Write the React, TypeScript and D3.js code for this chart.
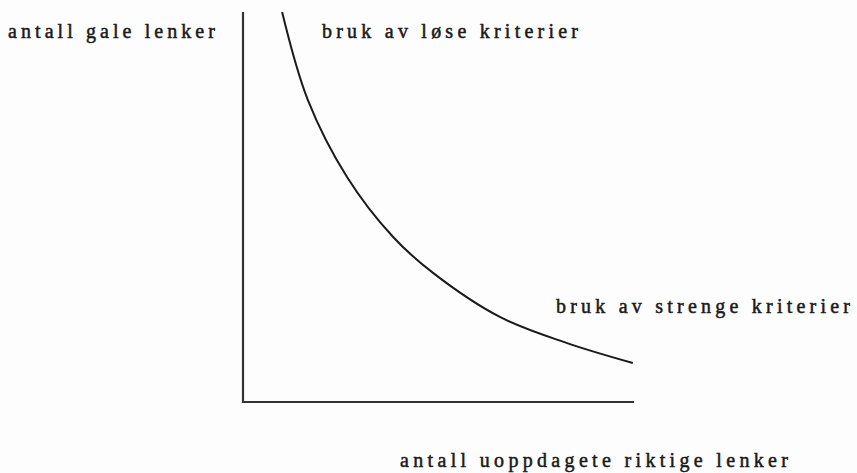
import React, { useEffect, useRef } from 'react';
import * as d3 from 'd3';

// curve (x = undetected correct links, y = wrong links), 0..100
const curveX = [10, 16.6, 26.6, 38.4, 48.6, 65.7, 82.9, 99.7];
const curveY = [100, 77.4, 57.7, 42.3, 33.1, 21.8, 15.1, 10];

const yTitle = 'antall gale lenker';
const xTitle = 'antall uoppdagete riktige lenker';
const looseLabel = 'bruk av løse kriterier';
const strictLabel = 'bruk av strenge kriterier';

const App = () => {
  const svgRef = useRef<SVGSVGElement>(null);

  useEffect(() => {
    const svg = d3.select(svgRef.current);
    svg.selectAll('*').remove();

    const width = 857;
    const height = 473;
    const margin = { top: 12, right: 223, bottom: 71, left: 243 };

    const x = d3.scaleLinear().domain([0, 100]).range([margin.left, width - margin.right]);
    const y = d3.scaleLinear().domain([0, 100]).range([height - margin.bottom, margin.top]);

    svg.append('rect').attr('width', width).attr('height', height).attr('fill', '#fdfdfd');

    // axes, no ticks
    const axis = d3.line<[number, number]>().x(d => x(d[0])).y(d => y(d[1]));
    svg
      .append('path')
      .attr('d', axis([[0, 100], [0, 0], [100, 0]]))
      .attr('fill', 'none')
      .attr('stroke', '#333')
      .attr('stroke-width', 2.2);

    // the curve
    const pts = curveX.map((v, i) => [v, curveY[i]] as [number, number]);
    const line = d3
      .line<[number, number]>()
      .x(d => x(d[0]))
      .y(d => y(d[1]))
      .curve(d3.curveCatmullRom.alpha(0.5));
    svg
      .append('path')
      .attr('d', line(pts))
      .attr('fill', 'none')
      .attr('stroke', '#1a1a1a')
      .attr('stroke-width', 2);

    const label = (txt: string, lx: number, ly: number, len: number) =>
      svg
        .append('text')
        .attr('x', lx)
        .attr('y', ly)
        .attr('textLength', len)
        .attr('lengthAdjust', 'spacing')
        .attr('font-family', '"Liberation Serif", serif')
        .attr('font-size', 20)
        .attr('fill', '#1a1a1a')
        .attr('stroke', '#1a1a1a')
        .attr('stroke-width', 0.5)
        .text(txt);

    label(yTitle, 8, 38, 207);
    label(looseLabel, 322, 38, 256);
    label(strictLabel, 556, 313, 294);
    label(xTitle, 400, 467, 388);
  }, []);

  return (
    <svg
      ref={svgRef}
      width={857}
      height={473}
      style={{ position: 'absolute', left: 0, top: 0 }}
    ></svg>
  );
};

export default App;
